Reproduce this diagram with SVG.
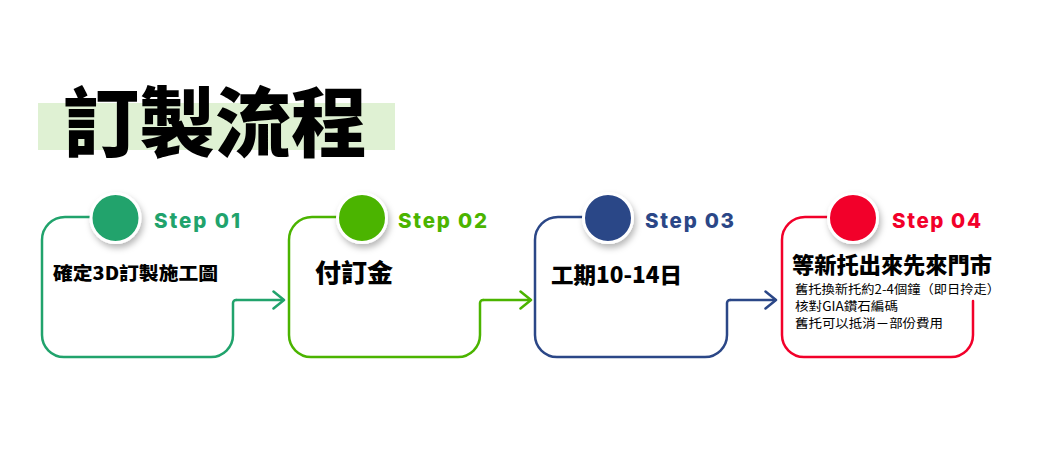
<svg xmlns="http://www.w3.org/2000/svg" width="1050" height="450" viewBox="0 0 1050 450">
  <style>
    .box { fill: none; stroke-width: 2.5; stroke-linecap: round; stroke-linejoin: round; }
    .conn { fill: none; stroke-width: 2.5; }
    .dot { stroke: #ffffff; stroke-width: 3; filter: url(#sh); }
    .step { font-family: Inter, "Noto Sans", sans-serif; font-weight: 800; font-size: 20.5px; }
    .title { font-family: "Noto Sans CJK TC", "Noto Sans CJK SC", sans-serif; font-weight: 900; font-size: 76px; fill: #000; }
    .lbl { font-family: "Noto Sans CJK TC", "Noto Sans CJK SC", sans-serif; font-weight: 900; fill: #000; }
    .small { font-family: "Noto Sans CJK TC", "Noto Sans CJK SC", sans-serif; font-weight: 400; font-size: 12.5px; fill: #000; }
    .c1 { stroke: #21a36c; } .f1 { fill: #21a36c; }
    .c2 { stroke: #4bb400; } .f2 { fill: #4bb400; }
    .c3 { stroke: #2b4787; } .f3 { fill: #2b4787; }
    .c4 { stroke: #f2002a; } .f4 { fill: #f2002a; }
  </style>
  <defs>
    <filter id="sh" x="-40%" y="-40%" width="180%" height="190%">
      <feDropShadow dx="2" dy="4" stdDeviation="3" flood-color="#000" flood-opacity="0.28"/>
    </filter>
    <marker id="m1" viewBox="0 0 14 20" refX="12" refY="10" markerWidth="14" markerHeight="20" markerUnits="userSpaceOnUse" orient="auto">
      <path d="M1.5,1.5 L12,10 L1.5,18.5" fill="none" stroke="#21a36c" stroke-width="2.5" stroke-linecap="round" stroke-linejoin="round"/>
    </marker>
    <marker id="m2" viewBox="0 0 14 20" refX="12" refY="10" markerWidth="14" markerHeight="20" markerUnits="userSpaceOnUse" orient="auto">
      <path d="M1.5,1.5 L12,10 L1.5,18.5" fill="none" stroke="#4bb400" stroke-width="2.5" stroke-linecap="round" stroke-linejoin="round"/>
    </marker>
    <marker id="m3" viewBox="0 0 14 20" refX="12" refY="10" markerWidth="14" markerHeight="20" markerUnits="userSpaceOnUse" orient="auto">
      <path d="M1.5,1.5 L12,10 L1.5,18.5" fill="none" stroke="#2b4787" stroke-width="2.5" stroke-linecap="round" stroke-linejoin="round"/>
    </marker>
  </defs>
  <rect width="1050" height="450" fill="#ffffff"/>

  <g id="title">
    <rect x="38" y="103" width="357" height="47" fill="#dff1d3"/>
    <text class="title" x="63" y="151" textLength="304" lengthAdjust="spacingAndGlyphs">訂製流程</text>
  </g>

  <g id="connectors">
    <path class="conn c1" d="M236,300 H284" marker-end="url(#m1)"/>
    <path class="conn c2" d="M483,300 H531" marker-end="url(#m2)"/>
    <path class="conn c3" d="M730,300 H776" marker-end="url(#m3)"/>
  </g>

  <g id="step1">
    <path class="box c1" d="M115,217 H65 A23,23 0 0 0 42,240 V335 A22,22 0 0 0 64,357 H211 A22,22 0 0 0 233,335 V303 A3,3 0 0 1 236,300"/>
    <circle class="dot f1" cx="115.5" cy="218" r="24.5"/>
    <text class="step f1" x="154" y="228" textLength="86" lengthAdjust="spacing">Step 01</text>
    <text class="lbl" x="53" y="280" font-size="18" textLength="165" lengthAdjust="spacingAndGlyphs">確定3D訂製施工圖</text>
  </g>

  <g id="step2">
    <path class="box c2" d="M362,217 H312 A23,23 0 0 0 289,240 V335 A22,22 0 0 0 311,357 H458 A22,22 0 0 0 480,335 V303 A3,3 0 0 1 483,300"/>
    <circle class="dot f2" cx="362" cy="218" r="24.5"/>
    <text class="step f2" x="398" y="228" textLength="89" lengthAdjust="spacing">Step 02</text>
    <text class="lbl" x="315" y="282" font-size="25" textLength="78" lengthAdjust="spacingAndGlyphs">付訂金</text>
  </g>

  <g id="step3">
    <path class="box c3" d="M608,217 H558 A23,23 0 0 0 535,240 V335 A22,22 0 0 0 557,357 H705 A22,22 0 0 0 727,335 V303 A3,3 0 0 1 730,300"/>
    <circle class="dot f3" cx="608" cy="218" r="24.5"/>
    <text class="step f3" x="645" y="228" textLength="89" lengthAdjust="spacing">Step 03</text>
    <text class="lbl" x="551" y="283" font-size="22" textLength="131" lengthAdjust="spacingAndGlyphs">工期10-14日</text>
  </g>

  <g id="step4">
    <path class="box c4" d="M853,217 H805 A23,23 0 0 0 782,240 V335 A22,22 0 0 0 804,357 H951 A22,22 0 0 0 973,335 V301"/>
    <circle class="dot f4" cx="853" cy="218" r="24.5"/>
    <text class="step f4" x="892" y="228" textLength="89" lengthAdjust="spacing">Step 04</text>
    <text class="lbl" x="792" y="273" font-size="22" textLength="200" lengthAdjust="spacingAndGlyphs">等新托出來先來門市</text>
    <text class="small" x="795" y="294" textLength="205" lengthAdjust="spacingAndGlyphs">舊托換新托約2-4個鐘（即日拎走）</text>
    <text class="small" x="795" y="311" textLength="103" lengthAdjust="spacingAndGlyphs">核對GIA鑽石編碼</text>
    <text class="small" x="795" y="328" textLength="148" lengthAdjust="spacingAndGlyphs">舊托可以抵消－部份費用</text>
  </g>
</svg>
